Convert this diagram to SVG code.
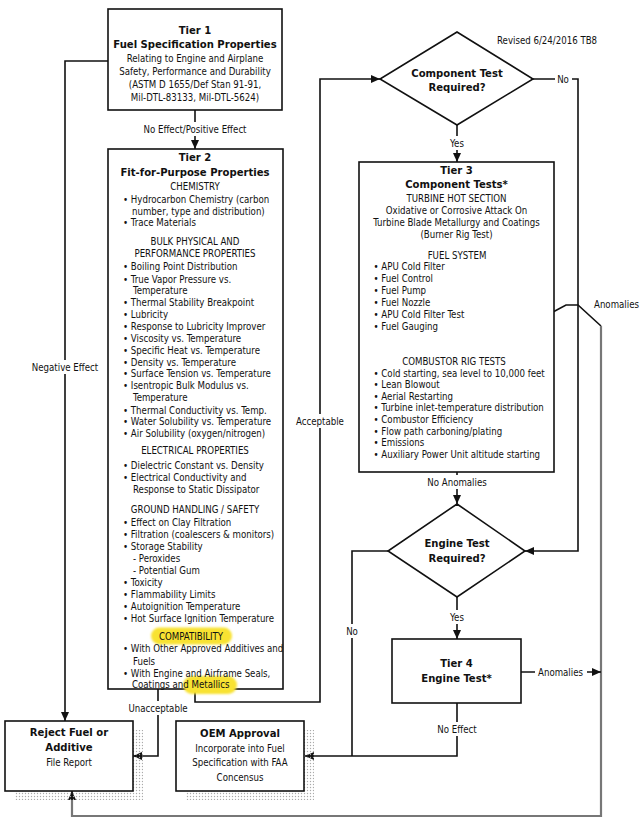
<svg xmlns="http://www.w3.org/2000/svg" width="643" height="822" viewBox="0 0 643 822">
<style>
text{font-family:"DejaVu Sans Condensed","DejaVu Sans",sans-serif;font-stretch:condensed;font-size:9.6px;fill:#111}
.b{font-weight:bold;font-size:11.2px}
.c{text-anchor:middle}
.box{fill:#fff;stroke:#111;stroke-width:1.6}
.con{fill:none;stroke:#111;stroke-width:1.6}
.gray{fill:none;stroke:#777;stroke-width:2.2}
.lbl{fill:#fff}
.shadow{fill:url(#dots)}
.hl{fill:#f8e230;filter:url(#soft)}
</style>
<defs>
<marker id="arr" markerUnits="userSpaceOnUse" markerWidth="9" markerHeight="8" refX="9" refY="4" orient="auto">
<path d="M0,0 L9,4 L0,8 z" fill="#111"/>
</marker>
<pattern id="dots" width="3" height="3" patternUnits="userSpaceOnUse">
<circle cx="1.5" cy="1.5" r="0.7" fill="#aaa"/>
</pattern>
<filter id="soft" x="-20%" y="-50%" width="140%" height="200%"><feGaussianBlur stdDeviation="1.3"/></filter>
</defs>
<rect width="643" height="822" fill="#fff"/>

<text x="497" y="43.5">Revised 6/24/2016 TB8</text>

<g id="connectors">
<path class="con" d="M195,110 V149" marker-end="url(#arr)"/>
<path class="con" d="M108,61 H65 V721" marker-end="url(#arr)"/>
<path class="con" d="M158,689 V756 H133" marker-end="url(#arr)"/>
<path class="con" d="M195,689 V702 H320 V79 H380" marker-end="url(#arr)"/>
<path class="con" d="M457,125 V162" marker-end="url(#arr)"/>
<path class="con" d="M533,79 H578 V551 H525" marker-end="url(#arr)"/>
<path class="con" d="M457,472 V504" marker-end="url(#arr)"/>
<path class="con" d="M553,312 L566,305 L578,305 L601,326"/>
<path class="gray" d="M601,326 V816 H72 V797"/>
<path class="con" d="M72,800 V791" marker-end="url(#arr)"/>
<path class="con" d="M457,597 V639" marker-end="url(#arr)"/>
<path class="con" d="M388,551 H352 V756"/>
<path class="con" d="M457,703 V756 H305" marker-end="url(#arr)"/>
<path class="con" d="M521,672 H601" marker-end="url(#arr)"/>
<rect class="lbl" x="141" y="122" width="108" height="14"/>
<text class="c" x="195" y="132.5">No Effect/Positive Effect</text>
<rect class="lbl" x="31" y="360" width="68" height="14"/>
<text class="c" x="65" y="370.5">Negative Effect</text>
<rect class="lbl" x="128" y="701" width="61" height="14"/>
<text class="c" x="158" y="711.5">Unacceptable</text>
<rect class="lbl" x="294" y="414" width="52" height="14"/>
<text class="c" x="320" y="424.5">Acceptable</text>
<rect class="lbl" x="446" y="136" width="22" height="14"/>
<text class="c" x="457" y="146.5">Yes</text>
<rect class="lbl" x="555" y="72" width="17" height="14"/>
<text class="c" x="563" y="82.5">No</text>
<text x="594" y="307.5">Anomalies</text>
<rect class="lbl" x="426" y="475" width="62" height="14"/>
<text class="c" x="457" y="485.5">No Anomalies</text>
<rect class="lbl" x="446" y="610" width="22" height="14"/>
<text class="c" x="457" y="620.5">Yes</text>
<rect class="lbl" x="343" y="624" width="18" height="14"/>
<text class="c" x="352" y="634.5">No</text>
<rect class="lbl" x="535" y="665" width="52" height="14"/>
<text class="c" x="560.5" y="675.5">Anomalies</text>
<rect class="lbl" x="432" y="722" width="50" height="14"/>
<text class="c" x="457" y="732.5">No Effect</text>
</g>

<g id="tier1">
<rect class="box" x="108" y="9" width="174" height="101"/>
<text class="b c" x="195" y="34">Tier 1</text>
<text class="b c" x="195" y="48">Fuel Specification Properties</text>
<text class="c" x="195" y="61.5">Relating to Engine and Airplane</text>
<text class="c" x="195" y="74.5">Safety, Performance and Durability</text>
<text class="c" x="195" y="87.5">(ASTM D 1655/Def Stan 91-91,</text>
<text class="c" x="195" y="100.5">Mil-DTL-83133, Mil-DTL-5624)</text>
</g>

<g id="tier2">
<rect class="box" x="108" y="149" width="175" height="540"/>
<rect class="hl" x="151" y="627.5" width="81" height="17" rx="8.5"/>
<rect class="hl" x="183" y="676" width="54" height="18" rx="9"/>
<text class="b c" x="195" y="161">Tier 2</text>
<text class="b c" x="195" y="176">Fit-for-Purpose Properties</text>
<text class="c" x="195" y="189.5">CHEMISTRY</text>
<text x="123" y="202.5">• Hydrocarbon Chemistry (carbon</text>
<text x="132" y="214.5">number, type and distribution)</text>
<text x="123" y="225.5">• Trace Materials</text>
<text class="c" x="195" y="244.5">BULK PHYSICAL AND</text>
<text class="c" x="195" y="256.5">PERFORMANCE PROPERTIES</text>
<text x="123" y="269.5">• Boiling Point Distribution</text>
<text x="123" y="282.5">• True Vapor Pressure vs.</text>
<text x="133" y="293.5">Temperature</text>
<text x="123" y="305.5">• Thermal Stability Breakpoint</text>
<text x="123" y="317.5">• Lubricity</text>
<text x="123" y="329.5">• Response to Lubricity Improver</text>
<text x="123" y="341.5">• Viscosity vs. Temperature</text>
<text x="123" y="353.5">• Specific Heat vs. Temperature</text>
<text x="123" y="365.5">• Density vs. Temperature</text>
<text x="123" y="377">• Surface Tension vs. Temperature</text>
<text x="123" y="389">• Isentropic Bulk Modulus vs.</text>
<text x="133" y="400.5">Temperature</text>
<text x="123" y="413.5">• Thermal Conductivity vs. Temp.</text>
<text x="123" y="425">• Water Solubility vs. Temperature</text>
<text x="123" y="437">• Air Solubility (oxygen/nitrogen)</text>
<text class="c" x="195" y="453.5">ELECTRICAL PROPERTIES</text>
<text x="123" y="468.5">• Dielectric Constant vs. Density</text>
<text x="123" y="480.5">• Electrical Conductivity and</text>
<text x="133" y="492.5">Response to Static Dissipator</text>
<text class="c" x="195" y="512.5">GROUND HANDLING / SAFETY</text>
<text x="123" y="525.5">• Effect on Clay Filtration</text>
<text x="123" y="537.5">• Filtration (coalescers &amp; monitors)</text>
<text x="123" y="549.5">• Storage Stability</text>
<text x="133" y="561.5">- Peroxides</text>
<text x="133" y="573.5">- Potential Gum</text>
<text x="123" y="585.5">• Toxicity</text>
<text x="123" y="597.5">• Flammability Limits</text>
<text x="123" y="609.5">• Autoignition Temperature</text>
<text x="123" y="621.5">• Hot Surface Ignition Temperature</text>
<text class="c" x="191" y="639.5">COMPATIBILITY</text>
<text x="123" y="651.5">• With Other Approved Additives and</text>
<text x="133" y="664.5">Fuels</text>
<text x="123" y="676.5">• With Engine and Airframe Seals,</text>
<text x="132" y="687.5">Coatings and Metallics</text>
</g>

<g id="component-test-decision">
<polygon points="457,32 533,79 457,125 380,79" fill="#fff" stroke="#111" stroke-width="1.6"/>
<text class="b c" x="457" y="77">Component Test</text>
<text class="b c" x="457" y="91">Required?</text>
</g>

<g id="tier3">
<rect class="box" x="359" y="162" width="195" height="310"/>
<text class="b c" x="456.5" y="174">Tier 3</text>
<text class="b c" x="456.5" y="188">Component Tests*</text>
<text class="c" x="456.5" y="201.5">TURBINE HOT SECTION</text>
<text class="c" x="456.5" y="213.5">Oxidative or Corrosive Attack On</text>
<text class="c" x="456.5" y="225.5">Turbine Blade Metallurgy and Coatings</text>
<text class="c" x="456.5" y="237.5">(Burner Rig Test)</text>
<text class="c" x="457" y="258.5">FUEL SYSTEM</text>
<text x="373.5" y="269.5">• APU Cold Filter</text>
<text x="373.5" y="281.5">• Fuel Control</text>
<text x="373.5" y="293.5">• Fuel Pump</text>
<text x="373.5" y="305.5">• Fuel Nozzle</text>
<text x="373.5" y="317.5">• APU Cold Filter Test</text>
<text x="373.5" y="329.5">• Fuel Gauging</text>
<text class="c" x="454" y="364.5">COMBUSTOR RIG TESTS</text>
<text x="373.5" y="376.5">• Cold starting, sea level to 10,000 feet</text>
<text x="373.5" y="388">• Lean Blowout</text>
<text x="373.5" y="399.5">• Aerial Restarting</text>
<text x="373.5" y="411">• Turbine inlet-temperature distribution</text>
<text x="373.5" y="422.5">• Combustor Efficiency</text>
<text x="373.5" y="434.5">• Flow path carboning/plating</text>
<text x="373.5" y="445.5">• Emissions</text>
<text x="373.5" y="457.5">• Auxiliary Power Unit altitude starting</text>
</g>

<g id="engine-test-decision">
<polygon points="457,504 525,551 457,597 388,551" fill="#fff" stroke="#111" stroke-width="1.6"/>
<text class="b c" x="457" y="547">Engine Test</text>
<text class="b c" x="457" y="562">Required?</text>
</g>

<g id="tier4">
<rect class="box" x="392" y="639" width="129" height="64"/>
<text class="b c" x="456.5" y="667">Tier 4</text>
<text class="b c" x="456.5" y="682">Engine Test*</text>
</g>

<g id="reject">
<rect class="shadow" x="15" y="730" width="128" height="70"/>
<rect class="box" x="5" y="721" width="128" height="70" stroke-width="2"/>
<text class="b c" x="69" y="736">Reject Fuel or</text>
<text class="b c" x="69" y="751">Additive</text>
<text class="c" x="69" y="765.5">File Report</text>
</g>

<g id="oem-approval">
<rect class="shadow" x="186" y="730" width="128" height="70"/>
<rect class="box" x="176" y="721" width="128" height="70" stroke-width="2"/>
<text class="b c" x="240" y="737">OEM Approval</text>
<text class="c" x="240" y="751.5">Incorporate into Fuel</text>
<text class="c" x="240" y="766">Specification with FAA</text>
<text class="c" x="240" y="780.5">Concensus</text>
</g>
</svg>
